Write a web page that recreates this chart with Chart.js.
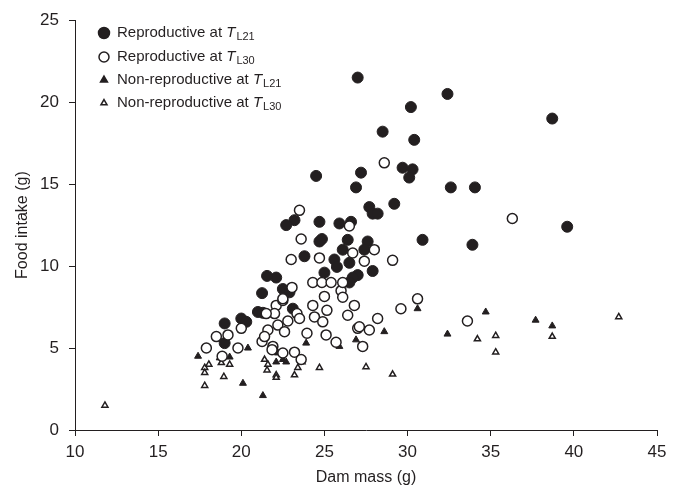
<!DOCTYPE html>
<html>
<head>
<meta charset="utf-8">
<script src="https://cdn.jsdelivr.net/npm/chart.js@4"></script>
<style>
  body { margin: 0; background: #fff; }
  #wrap { width: 674px; height: 493px; position: relative; }
</style>
</head>
<body>
<div id="wrap"><canvas id="chart"></canvas></div>
<script>
// Reproductive at TL21 (filled circles)
const repro21X = [27.0, 32.4, 30.2, 38.7, 28.5, 30.4, 29.7, 30.3, 30.1, 24.5, 27.2, 26.9, 32.6, 34.05, 29.2, 27.7, 27.9, 28.2,
  23.2, 22.7, 24.7, 25.9, 26.6, 30.9, 33.9, 39.6, 24.7, 24.85, 26.4, 27.6, 26.1, 27.4, 23.8, 25.6, 25.75, 26.5, 27.9, 27.0,
  26.7, 26.5, 25.0, 22.1, 21.55, 22.5, 21.25, 22.9, 23.1, 21.0, 21.3, 19.0, 20.0, 20.3, 19.0];
const repro21Y = [21.5, 20.5, 19.7, 19.0, 18.2, 17.7, 16.0, 15.9, 15.4, 15.5, 15.7, 14.8, 14.8, 14.8, 13.8, 13.6, 13.2, 13.2,
  12.8, 12.5, 12.7, 12.6, 12.7, 11.6, 11.3, 12.4, 11.5, 11.65, 11.6, 11.5, 11.0, 11.0, 10.6, 10.4, 9.95, 10.2, 9.7, 9.45,
  9.3, 9.0, 9.6, 9.3, 9.4, 8.6, 8.35, 8.4, 7.4, 7.2, 7.15, 6.5, 6.8, 6.6, 5.3];

// Reproductive at TL30 (open circles)
const repro30X = [28.6, 23.5, 26.5, 23.6, 36.3, 28.0, 26.7, 27.4, 29.1, 23.0, 24.7,
  25.0, 26.0, 26.1, 26.1, 24.3, 24.85, 25.4, 26.8, 26.4, 24.3, 25.15, 24.4, 24.9, 28.2, 29.6, 30.6, 33.6,
  27.0, 27.1, 27.7, 27.3, 25.1, 25.7, 23.95, 22.1, 22.5, 22.0, 22.8, 23.35, 23.5, 22.2, 22.6, 21.9, 22.5,
  23.2, 23.6, 23.05, 21.5, 21.6, 21.25, 21.4, 21.85, 20.0, 18.5, 19.2, 17.9, 18.85, 19.8, 22.5];
const repro30Y = [16.3, 13.4, 12.45, 11.65, 12.9, 11.0, 10.8, 10.3, 10.35, 10.4, 10.5,
  8.15, 8.5, 8.1, 9.0, 9.0, 9.0, 9.0, 7.6, 7.0, 7.6, 7.3, 6.9, 6.6, 6.8, 7.4, 8.0, 6.65,
  6.2, 6.3, 6.1, 5.1, 5.8, 5.35, 5.9, 7.6, 7.9, 7.1, 6.65, 7.1, 6.8, 6.4, 6.0, 5.1, 4.7,
  4.75, 4.3, 8.7, 7.1, 6.1, 5.4, 5.7, 4.9, 6.2, 5.7, 5.8, 5.0, 4.5, 5.0, 8.0];

// Non-reproductive at TL21 (filled triangles)
const non21X = [17.4, 18.7, 19.3, 20.4, 20.1, 21.3, 22.2, 22.5, 22.7, 22.1, 23.9, 25.9, 26.9, 28.6, 30.6, 32.4, 34.7, 37.7, 38.7];
const non21Y = [4.5, 4.4, 4.45, 5.0, 2.85, 2.1, 4.7, 4.3, 4.15, 4.15, 5.3, 5.1, 5.5, 6.0, 7.4, 5.85, 7.2, 6.7, 6.35];

// Non-reproductive at TL30 (open triangles)
const non30X = [11.8, 17.8, 18.05, 17.8, 17.8, 18.8, 19.3, 18.95, 21.4, 21.6, 21.55, 22.1, 22.1, 23.65, 23.4, 23.2,
  24.7, 27.5, 29.1, 34.2, 35.3, 35.3, 38.7, 42.7];
const non30Y = [1.5, 3.8, 4.0, 3.5, 2.7, 4.1, 4.0, 3.25, 4.3, 4.0, 3.65, 3.35, 3.2, 4.15, 3.8, 3.35,
  3.8, 3.85, 3.4, 5.55, 5.75, 4.75, 5.7, 6.9];

const xTicks = [10, 15, 20, 25, 30, 35, 40, 45];
const yTicks = [0, 5, 10, 15, 20, 25];

const ink = '#231f20';

function pts(xs, ys) {
  return xs.map((x, i) => ({ x: x, y: ys[i] }));
}

// legend drawn on the canvas so the subscripts can be rendered
const legendRows = [
  { label: 'Reproductive at ', sub: 'L21', style: 'circle', fill: true, r: 5.5 },
  { label: 'Reproductive at ', sub: 'L30', style: 'circle', fill: false, r: 5 },
  { label: 'Non-reproductive at ', sub: 'L21', style: 'triangle', fill: true, r: 4 },
  { label: 'Non-reproductive at ', sub: 'L30', style: 'triangle', fill: false, r: 3.5 }
];

const legendPlugin = {
  id: 'subLegend',
  afterDraw(chart) {
    const ctx = chart.ctx;
    const rowY = [33, 57, 80, 103];
    ctx.save();
    legendRows.forEach((row, i) => {
      const y = rowY[i];
      ctx.fillStyle = row.fill ? ink : '#fff';
      ctx.strokeStyle = ink;
      ctx.lineWidth = 1.5;
      Chart.helpers.drawPoint(ctx, { pointStyle: row.style, radius: row.r, borderWidth: 1.5 }, 104, y);
      ctx.fillStyle = ink;
      ctx.textBaseline = 'middle';
      ctx.font = '15px "Liberation Sans", Arial, sans-serif';
      ctx.fillText(row.label, 117, y);
      let x = 117 + ctx.measureText(row.label).width;
      ctx.font = 'italic 15px "Liberation Sans", Arial, sans-serif';
      ctx.fillText('T', x, y);
      x += ctx.measureText('T').width + 1;
      ctx.font = '11px "Liberation Sans", Arial, sans-serif';
      ctx.fillText(row.sub, x, y + 4);
    });
    ctx.restore();
  }
};

Chart.defaults.font.family = '"Liberation Sans", Arial, sans-serif';
Chart.defaults.color = ink;

new Chart(document.getElementById('chart'), {
  type: 'scatter',
  data: {
    datasets: [
      { label: 'Non-reproductive at TL30', data: pts(non30X, non30Y), pointStyle: 'triangle', pointRadius: 3.5,
        backgroundColor: '#fff', borderColor: ink, borderWidth: 1.5, order: 4 },
      { label: 'Non-reproductive at TL21', data: pts(non21X, non21Y), pointStyle: 'triangle', pointRadius: 4,
        backgroundColor: ink, borderColor: ink, borderWidth: 1, order: 3 },
      { label: 'Reproductive at TL21', data: pts(repro21X, repro21Y), pointStyle: 'circle', pointRadius: 5.5,
        backgroundColor: ink, borderColor: ink, borderWidth: 1, order: 2 },
      { label: 'Reproductive at TL30', data: pts(repro30X, repro30Y), pointStyle: 'circle', pointRadius: 5,
        backgroundColor: '#fff', borderColor: ink, borderWidth: 1.5, order: 1 }
    ]
  },
  options: {
    responsive: true,
    maintainAspectRatio: false,
    animation: false,
    layout: { padding: { left: 13, top: 20, right: 17, bottom: 0 } },
    plugins: { legend: { display: false }, tooltip: { enabled: false } },
    scales: {
      x: {
        type: 'linear', min: 10, max: 45,
        afterBuildTicks: s => { s.ticks = xTicks.map(v => ({ value: v })); },
        afterFit: s => { s.height = 63; },
        border: { color: ink, width: 1 },
        grid: { drawOnChartArea: false, color: ink, tickLength: 6 },
        ticks: { font: { size: 17 }, color: ink, padding: 6, maxRotation: 0 },
        title: { display: true, text: 'Dam mass (g)', font: { size: 16 }, color: ink, padding: { top: 2, bottom: 6 } }
      },
      y: {
        type: 'linear', min: 0, max: 25,
        afterBuildTicks: s => { s.ticks = yTicks.map(v => ({ value: v })); },
        afterFit: s => { s.width = 62; },
        border: { color: ink, width: 1 },
        grid: { drawOnChartArea: false, color: ink, tickLength: 6 },
        ticks: { font: { size: 17 }, color: ink, padding: 10 },
        title: { display: true, text: 'Food intake (g)', font: { size: 16 }, color: ink, padding: { top: 0, bottom: 2 } }
      }
    }
  },
  plugins: [legendPlugin]
});
</script>
</body>
</html>
